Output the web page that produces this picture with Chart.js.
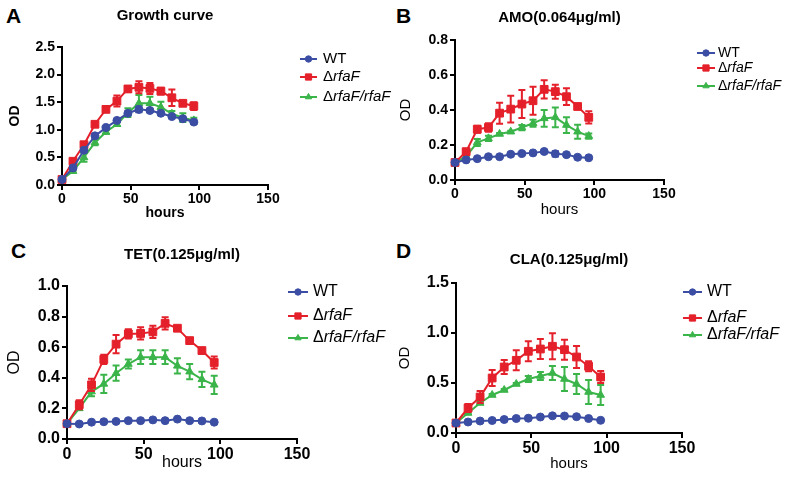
<!DOCTYPE html>
<html>
<head>
<meta charset="utf-8">
<script src="https://cdn.jsdelivr.net/npm/chart.js@4.4.0/dist/chart.umd.min.js"></script>
<style>
  body { margin: 0; background: #fff; width: 789px; height: 481px; position: relative; overflow: hidden; font-family: "Liberation Sans", Arial, sans-serif; }
  canvas { position: absolute; }
  .letter { position: absolute; font-weight: bold; font-size: 21px; line-height: 1; color: #000; }
</style>
</head>
<body>
<div class="letter" style="left:6px;top:5px">A</div>
<div class="letter" style="left:396px;top:5px">B</div>
<div class="letter" style="left:11px;top:240px">C</div>
<div class="letter" style="left:396px;top:240px">D</div>
<canvas id="cA" width="394" height="240" style="left:0;top:0"></canvas>
<canvas id="cB" width="395" height="240" style="left:394px;top:0"></canvas>
<canvas id="cC" width="394" height="241" style="left:0;top:240px"></canvas>
<canvas id="cD" width="395" height="241" style="left:394px;top:240px"></canvas>
<script>
const hours = [0, 8, 16, 24, 32, 40, 48, 56, 64, 72, 80, 88, 96];
const seriesNames = ['WT', 'ΔrfaF', 'ΔrfaF/rfaF'];
const xTicks = [0, 50, 100, 150];

// A: growth curve
const growthTicks = [0, 0.5, 1.0, 1.5, 2.0, 2.5];
const growthWT = [0.10, 0.31, 0.63, 0.89, 1.04, 1.17, 1.30, 1.37, 1.35, 1.30, 1.24, 1.20, 1.14];
const growthWTErr = [0.02, 0.02, 0.03, 0.03, 0.02, 0.02, 0.03, 0.05, 0.02, 0.02, 0.02, 0.02, 0.03];
const growthRfaF = [0.10, 0.43, 0.73, 1.10, 1.37, 1.52, 1.74, 1.77, 1.75, 1.70, 1.58, 1.48, 1.43];
const growthRfaFErr = [0.02, 0.03, 0.04, 0.03, 0.04, 0.10, 0.05, 0.11, 0.10, 0.06, 0.15, 0.04, 0.07];
const growthComp = [0.10, 0.25, 0.50, 0.77, 0.96, 1.10, 1.31, 1.48, 1.48, 1.41, 1.29, 1.22, 1.17];
const growthCompErr = [0.02, 0.02, 0.08, 0.05, 0.03, 0.03, 0.08, 0.15, 0.12, 0.10, 0.05, 0.08, 0.05];

// B: AMO
const amoTicks = [0, 0.2, 0.4, 0.6, 0.8];
const amoWT = [0.10, 0.115, 0.122, 0.133, 0.133, 0.147, 0.151, 0.155, 0.163, 0.150, 0.145, 0.130, 0.127];
const amoWTErr = [0.005, 0.004, 0.004, 0.004, 0.004, 0.005, 0.005, 0.005, 0.006, 0.015, 0.006, 0.005, 0.005];
const amoRfaF = [0.10, 0.162, 0.290, 0.300, 0.382, 0.405, 0.434, 0.453, 0.518, 0.505, 0.476, 0.420, 0.358];
const amoRfaFErr = [0.005, 0.008, 0.020, 0.024, 0.060, 0.076, 0.080, 0.080, 0.052, 0.040, 0.048, 0.008, 0.035];
const amoComp = [0.10, 0.135, 0.215, 0.238, 0.263, 0.276, 0.300, 0.324, 0.352, 0.358, 0.314, 0.276, 0.251];
const amoCompErr = [0.005, 0.005, 0.020, 0.015, 0.005, 0.005, 0.015, 0.020, 0.048, 0.057, 0.045, 0.040, 0.015];

// C: TET
const tetTicks = [0, 0.2, 0.4, 0.6, 0.8, 1.0];
const tetWT = [0.10, 0.098, 0.110, 0.113, 0.115, 0.120, 0.120, 0.125, 0.120, 0.130, 0.120, 0.118, 0.110];
const tetWTErr = [0.005, 0.004, 0.004, 0.004, 0.004, 0.004, 0.004, 0.005, 0.004, 0.005, 0.004, 0.004, 0.004];
const tetRfaF = [0.10, 0.224, 0.354, 0.520, 0.620, 0.687, 0.690, 0.700, 0.756, 0.724, 0.643, 0.578, 0.500];
const tetRfaFErr = [0.005, 0.030, 0.040, 0.030, 0.060, 0.030, 0.040, 0.040, 0.040, 0.010, 0.010, 0.010, 0.040];
const tetComp = [0.10, 0.200, 0.310, 0.360, 0.430, 0.490, 0.535, 0.535, 0.535, 0.478, 0.440, 0.390, 0.354];
const tetCompErr = [0.005, 0.010, 0.030, 0.060, 0.050, 0.030, 0.045, 0.045, 0.045, 0.050, 0.050, 0.050, 0.060];

// D: CLA
const claTicks = [0, 0.5, 1.0, 1.5];
const claWT = [0.10, 0.110, 0.120, 0.125, 0.135, 0.145, 0.148, 0.160, 0.172, 0.170, 0.163, 0.145, 0.127];
const claWTErr = [0.005, 0.005, 0.005, 0.005, 0.005, 0.005, 0.005, 0.006, 0.006, 0.006, 0.006, 0.005, 0.005];
const claRfaF = [0.10, 0.250, 0.360, 0.550, 0.660, 0.727, 0.817, 0.840, 0.867, 0.833, 0.760, 0.667, 0.560];
const claRfaFErr = [0.005, 0.040, 0.060, 0.080, 0.070, 0.100, 0.100, 0.100, 0.130, 0.100, 0.110, 0.050, 0.060];
const claComp = [0.10, 0.200, 0.300, 0.380, 0.430, 0.490, 0.540, 0.570, 0.600, 0.540, 0.490, 0.410, 0.380];
const claCompErr = [0.005, 0.010, 0.010, 0.010, 0.010, 0.010, 0.030, 0.040, 0.070, 0.120, 0.100, 0.120, 0.100];

const family = "'Liberation Sans', Arial, sans-serif";
const colors = ['#3b4ea3', '#e4202a', '#3bb44a'];
const pointStyles = ['circle', 'rect', 'triangle'];
const pointSizes = [4, 5.5, 4.5];

Chart.defaults.font.family = family;
Chart.defaults.color = '#000';

// vertical error bars, drawn right after each dataset
const errorBars = {
  id: 'errorBars',
  afterDatasetDraw(chart, args) {
    const ds = chart.data.datasets[args.index];
    if (!ds.errors) return;
    const y = chart.scales.y;
    const ctx = chart.ctx;
    ctx.save();
    ctx.strokeStyle = ds.borderColor;
    ctx.lineWidth = 2;
    args.meta.data.forEach((pt, i) => {
      const e = ds.errors[i];
      if (!e) return;
      const v = ds.data[i].y;
      const top = y.getPixelForValue(v + e);
      const bot = y.getPixelForValue(v - e);
      ctx.beginPath();
      ctx.moveTo(pt.x, top); ctx.lineTo(pt.x, bot);
      ctx.moveTo(pt.x - 3.5, top); ctx.lineTo(pt.x + 3.5, top);
      ctx.moveTo(pt.x - 3.5, bot); ctx.lineTo(pt.x + 3.5, bot);
      ctx.stroke();
    });
    ctx.restore();
  }
};

// legend on the right, with the italic gene names
const sideLegend = {
  id: 'sideLegend',
  afterDraw(chart, args, o) {
    const ctx = chart.ctx;
    chart.data.datasets.forEach((ds, i) => {
      const y = o.rows[i];
      ctx.save();
      ctx.strokeStyle = ds.borderColor;
      ctx.fillStyle = ds.backgroundColor;
      ctx.lineWidth = 2;
      ctx.beginPath();
      ctx.moveTo(o.x, y);
      ctx.lineTo(o.x + o.lineLen, y);
      ctx.stroke();
      ctx.lineWidth = 1;
      Chart.helpers.drawPoint(ctx, { pointStyle: ds.pointStyle, radius: ds.pointRadius * 0.8, borderWidth: 1, rotation: 0 }, o.x + o.lineLen / 2, y);
      ctx.fillStyle = '#000';
      ctx.textBaseline = 'middle';
      let tx = o.x + o.lineLen + o.gap;
      const label = ds.label;
      const parts = label[0] === 'Δ' ? [['Δ', ''], [label.slice(1), 'italic ']] : [[label, '']];
      parts.forEach(([t, style]) => {
        ctx.font = style + o.fontSize + 'px ' + family;
        ctx.fillText(t, tx, y);
        tx += ctx.measureText(t).width;
      });
      ctx.restore();
    });
  }
};

function makePanel(id, p) {
  const a = p.area;
  const canvas = document.getElementById(id);
  const axisLH = p.axisSize * 1.2;
  const titleLH = 18;
  const axisFont = { size: p.axisSize, weight: p.axisBold ? 'bold' : 'normal' };
  const tickFont = { size: p.tickSize, weight: 'bold' };
  const gridOpts = { drawOnChartArea: false, drawTicks: true, tickLength: 5, color: '#000', lineWidth: 2 };

  new Chart(canvas, {
    type: 'line',
    data: {
      datasets: seriesNames.map((name, i) => ({
        label: name,
        data: hours.map((h, j) => ({ x: h, y: p.values[i][j] })),
        errors: p.errors[i],
        borderColor: colors[i],
        backgroundColor: colors[i],
        pointStyle: pointStyles[i],
        pointRadius: pointSizes[i],
        pointBorderWidth: 1,
        borderWidth: 2,
        tension: 0,
        clip: false
      }))
    },
    options: {
      responsive: false,
      animation: false,
      layout: {
        padding: {
          top: 0,
          left: p.odX - axisLH / 2,
          right: canvas.width - a.R,
          bottom: canvas.height - p.hoursY - axisLH / 2
        }
      },
      plugins: {
        legend: { display: false },
        tooltip: { enabled: false },
        title: {
          display: true,
          text: p.title,
          fullSize: false,
          color: '#000',
          font: { size: 15, weight: 'bold', lineHeight: 1.2 },
          padding: { top: p.titleY - titleLH / 2, bottom: a.T - p.titleY - titleLH / 2 }
        },
        sideLegend: p.legend
      },
      scales: {
        x: {
          type: 'linear',
          min: 0,
          max: 150,
          afterBuildTicks: s => { s.ticks = xTicks.map(v => ({ value: v })); },
          afterFit: s => { s.height = p.hoursY + axisLH / 2 - a.B; },
          ticks: { color: '#000', font: tickFont, padding: 1, maxRotation: 0, callback: v => String(v) },
          grid: gridOpts,
          border: { display: true, color: '#000', width: 2 },
          title: { display: true, text: 'hours', color: '#000', padding: 0, font: axisFont }
        },
        y: {
          min: 0,
          max: p.yTicks[p.yTicks.length - 1],
          afterBuildTicks: s => { s.ticks = p.yTicks.map(v => ({ value: v })); },
          afterFit: s => { s.width = a.L - (p.odX - axisLH / 2); },
          ticks: { color: '#000', font: tickFont, padding: 2, callback: v => v.toFixed(1) },
          grid: gridOpts,
          border: { display: true, color: '#000', width: 2 },
          title: { display: true, text: 'OD', color: '#000', padding: 0, font: axisFont }
        }
      }
    },
    plugins: [errorBars, sideLegend]
  });
}

makePanel('cA', {
  title: 'Growth curve',
  yTicks: growthTicks,
  values: [growthWT, growthRfaF, growthComp],
  errors: [growthWTErr, growthRfaFErr, growthCompErr],
  area: { L: 62, R: 268, T: 47, B: 185 },
  titleY: 16, odX: 15, hoursY: 213,
  axisBold: true, axisSize: 14, tickSize: 14,
  legend: { x: 300, rows: [59, 77, 97], lineLen: 17, gap: 6, fontSize: 15 }
});

makePanel('cB', {
  title: 'AMO(0.064μg/ml)',
  yTicks: amoTicks,
  values: [amoWT, amoRfaF, amoComp],
  errors: [amoWTErr, amoRfaFErr, amoCompErr],
  area: { L: 61, R: 270, T: 40, B: 180 },
  titleY: 18, odX: 12, hoursY: 210,
  axisBold: false, axisSize: 15, tickSize: 14,
  legend: { x: 303, rows: [53, 68, 86], lineLen: 18, gap: 3, fontSize: 14 }
});

makePanel('cC', {
  title: 'TET(0.125μg/ml)',
  yTicks: tetTicks,
  values: [tetWT, tetRfaF, tetComp],
  errors: [tetWTErr, tetRfaFErr, tetCompErr],
  area: { L: 67, R: 297, T: 46, B: 199 },
  titleY: 15, odX: 15, hoursY: 223,
  axisBold: false, axisSize: 16, tickSize: 16,
  legend: { x: 288, rows: [52, 76, 98], lineLen: 20, gap: 5, fontSize: 16 }
});

makePanel('cD', {
  title: 'CLA(0.125μg/ml)',
  yTicks: claTicks,
  values: [claWT, claRfaF, claComp],
  errors: [claWTErr, claRfaFErr, claCompErr],
  area: { L: 62, R: 288, T: 43, B: 193 },
  titleY: 20, odX: 11, hoursY: 224,
  axisBold: false, axisSize: 15, tickSize: 16,
  legend: { x: 289, rows: [52, 78, 95], lineLen: 19, gap: 5, fontSize: 16 }
});
</script>
</body>
</html>
